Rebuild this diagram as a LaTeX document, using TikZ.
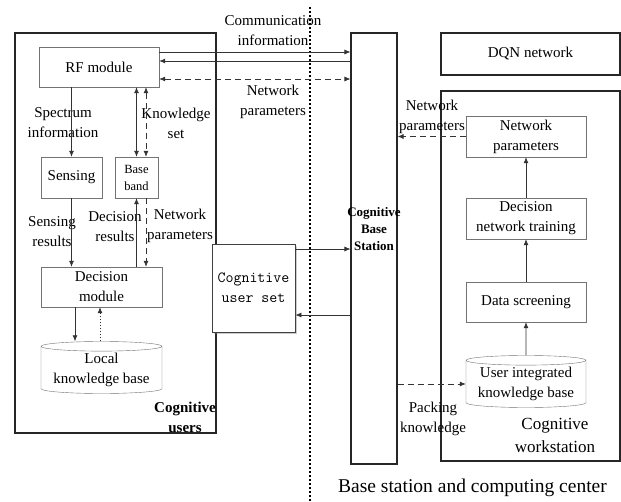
\documentclass[tikz,border=0pt]{standalone}
\usepackage{fontspec}
\setmainfont{Liberation Serif}
\usetikzlibrary{arrows.meta,shapes.geometric,shadows}

\begin{document}
\begin{tikzpicture}[x=1pt,y=-1pt,font=\fontsize{15}{20}\selectfont,mod/.style={draw=black!55,align=center,inner sep=0pt,fill=white},frame/.style={draw=black!85,line width=1.1pt,inner sep=0pt},cyl/.style={mod,cylinder,shape border rotate=90,aspect=0.1,minimum width=121pt,minimum height=52pt},lbl/.style={align=center,inner sep=0pt},arr/.style={-{Latex[length=6pt,width=5pt]},draw=black!80,line width=0.7pt},darr/.style={arr,dash pattern=on 6pt off 4pt}]
\useasboundingbox (0,0) rectangle (621,501);
\node[frame,minimum width=201pt,minimum height=400pt](users) at (115.5,233){};
\node[frame,minimum width=46pt,minimum height=431pt](bs) at (374,248.5){};
\node[frame,minimum width=179pt,minimum height=42pt](dqn) at (530.5,54){DQN network};
\node[frame,minimum width=179pt,minimum height=370pt](ws) at (530.5,276){};
\draw[line width=1.3pt,dash pattern=on 1.6pt off 2.4pt](310,7)--(310,501);
\node[mod,minimum width=120pt,minimum height=40pt](rf) at (99,67){RF module};
\node[mod,minimum width=61pt,minimum height=41pt](sensing) at (71.5,177.5){Sensing};
\node[mod,minimum width=43pt,minimum height=41pt,font=\fontsize{12.5}{17}\selectfont](baseband) at (136.5,177.5){Base\\band};
\node[mod,minimum width=121pt,minimum height=40pt](decision) at (101.5,287){Decision\\module};
\node[cyl](localkb) at (101.5,370){Local\\knowledge base};
\node[mod,draw=black!75,line width=0.8pt,drop shadow={shadow xshift=2pt,shadow yshift=-2pt,opacity=0.4},minimum width=83pt,minimum height=88pt,font=\ttfamily\fontsize{15.5}{20}\selectfont](userset) at (253.5,288){Cognitive\\user set};
\node[mod,minimum width=120pt,minimum height=41pt](np) at (526,136.5){Network\\parameters};
\node[mod,minimum width=120pt,minimum height=41pt](dnt) at (526,218.5){Decision\\network training};
\node[mod,minimum width=120pt,minimum height=40pt](ds) at (526,302){Data screening};
\node[cyl,minimum width=120pt](uikb) at (526,384){User integrated\\knowledge base};
\node[lbl](comm) at (273,31){Communication\\information};
\node[lbl](netpar1) at (273,102){Network\\parameters};
\node[lbl](spec) at (63,123){Spectrum\\information};
\node[lbl](know) at (176,123){Knowledge\\set};
\node[lbl](sensres) at (52,232){Sensing\\results};
\node[lbl](decres) at (115,227){Decision\\results};
\node[lbl](netpar2) at (180,226){Network\\parameters};
\node[lbl](netpar3) at (432,117){Network\\parameters};
\node[lbl](pack) at (433,419){Packing\\knowledge};
\node[lbl,font=\fontsize{17}{23}\selectfont](wslbl) at (555,435){Cognitive\\workstation};
\node[lbl,font=\bfseries\fontsize{15}{20}\selectfont](userslbl) at (185,417){Cognitive\\users};
\node[lbl,font=\bfseries\fontsize{13}{17}\selectfont](bslbl) at (374,229){Cognitive\\Base\\Station};
\node[lbl,font=\fontsize{19.5}{24}\selectfont](bsc) at (472.5,488){Base station and computing center};
\draw[arr](rf.east|-0,52)--(bs.west|-0,52);
\draw[arr](bs.west|-0,61)--(rf.east|-0,61);
\draw[darr,{Latex[length=6pt,width=5pt]}-{Latex[length=6pt,width=5pt]}](rf.east|-0,79)--(bs.west|-0,79);
\draw[arr](sensing.north|-rf.south)--(sensing.north);
\draw[arr,{Latex[length=6pt,width=5pt]}-{Latex[length=6pt,width=5pt]}](baseband.north|-rf.south)--(baseband.north);
\draw[darr,{Latex[length=6pt,width=5pt]}-{Latex[length=6pt,width=5pt]}](rf.south-|146,0)--(baseband.north-|146,0);
\draw[arr](sensing.south)--(sensing.south|-decision.north);
\draw[arr](baseband.south|-decision.north)--(baseband.south);
\draw[darr](baseband.south-|146,0)--(decision.north-|146,0);
\draw[arr](decision.south-|75,0)--(localkb.north-|75,0);
\draw[arr,dash pattern=on 1.5pt off 1.5pt](localkb.north-|100,0)--(decision.south-|100,0);
\draw[arr](userset.east|-0,249)--(bs.west|-0,249);
\draw[arr](bs.west|-0,315)--(userset.east|-0,315);
\draw[darr](np.west)--(np.west-|bs.east);
\draw[darr](uikb.west-|bs.east)--(uikb.west);
\draw[arr](uikb.north)--(ds.south);
\draw[arr](ds.north)--(dnt.south);
\draw[arr](dnt.north)--(np.south);
\end{tikzpicture}
\end{document}
